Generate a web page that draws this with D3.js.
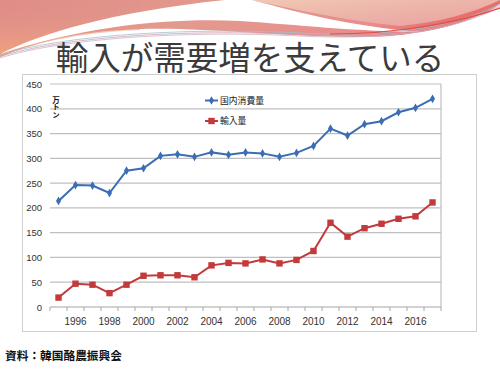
<!DOCTYPE html>
<html>
<head>
<meta charset="utf-8">
<script src="https://cdn.jsdelivr.net/npm/d3@7"></script>
<style>
  html, body { margin: 0; padding: 0; background: #fff; }
  svg { display: block; }
</style>
</head>
<body>
<script>
// data (万トン)
var years = d3.range(1995, 2018);
var consumption = [214, 246, 245, 230, 275, 280, 305, 308, 303, 312, 307, 312, 310,
                   303, 311, 325, 360, 346, 369, 375, 393, 402, 420];
var imports = [19, 47, 45, 28, 45, 63, 64, 64, 60, 84, 89, 88, 96,
               88, 95, 113, 170, 142, 159, 168, 178, 183, 211];
var yTicks = [0, 50, 100, 150, 200, 250, 300, 350, 400, 450];
var xLabels = [1996, 1998, 2000, 2002, 2004, 2006, 2008, 2010, 2012, 2014, 2016];

var width = 500, height = 375;
var svg = d3.select("body").append("svg")
    .attr("width", width)
    .attr("height", height);

var defs = svg.append("defs");

var g1 = defs.append("linearGradient").attr("id", "pinkBase")
    .attr("x1", 0).attr("y1", 0).attr("x2", 1).attr("y2", 0.3);
g1.append("stop").attr("offset", "0%").attr("stop-color", "#e08c86");
g1.append("stop").attr("offset", "45%").attr("stop-color", "#e39a8e");
g1.append("stop").attr("offset", "80%").attr("stop-color", "#e98d8c");
g1.append("stop").attr("offset", "100%").attr("stop-color", "#e5605a");

var g2 = defs.append("linearGradient").attr("id", "leftGlow")
    .attr("x1", 0).attr("y1", 0).attr("x2", 0).attr("y2", 1);
g2.append("stop").attr("offset", "0%").attr("stop-color", "#d98b8b").attr("stop-opacity", 0);
g2.append("stop").attr("offset", "100%").attr("stop-color", "#f5a57a").attr("stop-opacity", 0.9);

var g3 = defs.append("linearGradient").attr("id", "peach")
    .attr("x1", 0).attr("y1", 0).attr("x2", 1).attr("y2", 1);
g3.append("stop").attr("offset", "0%").attr("stop-color", "#f1c7b3");
g3.append("stop").attr("offset", "100%").attr("stop-color", "#e8a0a0");

// HEADER DECORATION
svg.append("path")
    .attr("fill", "url(#pinkBase)")
    .attr("d", "M0,0 H500 V4 C470,24 420,37 360,37 C300,37 240,31 180,29 C110,27 50,35 0,57 Z");
svg.append("path")
    .attr("fill", "url(#leftGlow)")
    .attr("d", "M0,0 H140 V30 C90,32 40,40 0,57 Z");
svg.append("path")
    .attr("fill", "url(#peach)")
    .attr("d", "M250,0 H500 V0 C470,14 440,22 400,26 C340,20 290,8 250,0 Z");
svg.append("path")
    .attr("fill", "#fff")
    .attr("d", "M0,54 C40,34 110,12 225,0 H252 C300,13 350,26 420,32 C350,31 300,25 240,21 C170,18 90,25 0,54 Z");
[["#9cc3d3", 0], ["#d9a0b0", 1.6], ["#c8b8c8", 3]].forEach(function(l) {
  svg.append("path")
      .attr("fill", "none")
      .attr("stroke", l[0])
      .attr("stroke-width", 0.8)
      .attr("d", "M0," + (55 + l[1]) + " C60," + (36 + l[1]) + " 180," + (27 + l[1]) + " 300," + (33 + l[1]) +
                 " C380," + (37 + l[1]) + " 450," + (30 + l[1]) + " 500," + (4 + l[1]));
});
svg.append("path")
    .attr("fill", "none")
    .attr("stroke", "#e24a44")
    .attr("stroke-width", 1.2)
    .attr("d", "M330,34 C400,34 460,22 500,8");

// TITLE
svg.append("text")
    .attr("x", 250)
    .attr("y", 70)
    .attr("text-anchor", "middle")
    .attr("font-family", "'Noto Sans CJK JP', sans-serif")
    .attr("font-size", 32.5)
    .attr("fill", "#3b3b3b")
    .text("輸入が需要増を支えている");

// CHART FRAME
svg.append("rect")
    .attr("x", 22.5).attr("y", 74.5)
    .attr("width", 454).attr("height", 257)
    .attr("fill", "#fff")
    .attr("stroke", "#cfcfcf");

var x = d3.scaleBand().domain(years).range([50, 441]);
var y = d3.scaleLinear().domain([0, 450]).range([307, 84]);

// gridlines
svg.append("g").selectAll("line")
    .data(yTicks.slice(1))
  .enter().append("line")
    .attr("x1", 50).attr("x2", 441)
    .attr("y1", function(d) { return y(d); })
    .attr("y2", function(d) { return y(d); })
    .attr("stroke", "#bfbfbf")
    .attr("stroke-width", 1.2);

svg.append("line")
    .attr("x1", 441).attr("x2", 441)
    .attr("y1", y(450)).attr("y2", y(0))
    .attr("stroke", "#bfbfbf")
    .attr("stroke-width", 1.2);

// y labels
svg.append("g").selectAll("text")
    .data(yTicks)
  .enter().append("text")
    .attr("x", 42)
    .attr("y", function(d) { return y(d) + 3.5; })
    .attr("text-anchor", "end")
    .attr("font-family", "'Liberation Sans', Arial, sans-serif")
    .attr("font-size", 9.5)
    .attr("fill", "#333")
    .text(function(d) { return d; });

// x axis
svg.append("line")
    .attr("x1", 50).attr("x2", 441)
    .attr("y1", y(0)).attr("y2", y(0))
    .attr("stroke", "#a6a6a6")
    .attr("stroke-width", 1.2);

var tickPos = years.map(function(d) { return x(d); }).concat([x.range()[1]]);
svg.append("g").selectAll("line")
    .data(tickPos)
  .enter().append("line")
    .attr("x1", function(d) { return d; })
    .attr("x2", function(d) { return d; })
    .attr("y1", y(0)).attr("y2", y(0) + 4)
    .attr("stroke", "#a6a6a6");

svg.append("g").selectAll("text")
    .data(xLabels)
  .enter().append("text")
    .attr("x", function(d) { return x(d) + x.bandwidth() / 2; })
    .attr("y", 325)
    .attr("text-anchor", "middle")
    .attr("font-family", "'Liberation Sans', Arial, sans-serif")
    .attr("font-size", 10)
    .attr("fill", "#333")
    .text(function(d) { return d; });

// unit label, written vertically
svg.append("text")
    .attr("x", 56)
    .attr("y", 96)
    .attr("writing-mode", "vertical-rl")
    .attr("font-family", "'Noto Sans CJK JP', sans-serif")
    .attr("font-weight", "bold")
    .attr("font-size", 7.5)
    .attr("fill", "#111")
    .text("万トン");

// SERIES
var cx = function(d, i) { return x(years[i]) + x.bandwidth() / 2; };
var line = d3.line().x(cx).y(function(d) { return y(d); });

var blue = "#3a6db3", red = "#c23a3b";

svg.append("path")
    .datum(consumption)
    .attr("fill", "none")
    .attr("stroke", blue)
    .attr("stroke-width", 2)
    .attr("d", line);

svg.append("path")
    .datum(imports)
    .attr("fill", "none")
    .attr("stroke", red)
    .attr("stroke-width", 2)
    .attr("d", line);

var diamond = d3.symbol().type(d3.symbolDiamond).size(22);
svg.append("g").selectAll("path")
    .data(consumption)
  .enter().append("path")
    .attr("transform", function(d, i) { return "translate(" + cx(d, i) + "," + y(d) + ")"; })
    .attr("d", diamond)
    .attr("fill", blue);

svg.append("g").selectAll("rect")
    .data(imports)
  .enter().append("rect")
    .attr("x", function(d, i) { return cx(d, i) - 3.2; })
    .attr("y", function(d) { return y(d) - 3.2; })
    .attr("width", 6.4).attr("height", 6.4)
    .attr("fill", red);

// LEGEND
var legend = [
  {name: "国内消費量", color: blue, shape: "diamond", y: 100.5},
  {name: "輸入量", color: red, shape: "square", y: 121}
];
legend.forEach(function(l) {
  svg.append("line")
      .attr("x1", 205).attr("x2", 218)
      .attr("y1", l.y).attr("y2", l.y)
      .attr("stroke", l.color)
      .attr("stroke-width", 2);
  if (l.shape == "diamond") {
    svg.append("path")
        .attr("transform", "translate(211.5," + l.y + ")")
        .attr("d", diamond)
        .attr("fill", l.color);
  } else {
    svg.append("rect")
        .attr("x", 208.3).attr("y", l.y - 3.2)
        .attr("width", 6.4).attr("height", 6.4)
        .attr("fill", l.color);
  }
  svg.append("text")
      .attr("x", 220)
      .attr("y", l.y + 3.2)
      .attr("font-family", "'Noto Sans CJK JP', sans-serif")
      .attr("font-size", 8.8)
      .attr("fill", "#222")
      .text(l.name);
});

// SOURCE
svg.append("text")
    .attr("x", 5)
    .attr("y", 360)
    .attr("font-family", "'Noto Sans CJK JP', sans-serif")
    .attr("font-weight", "bold")
    .attr("font-size", 11.7)
    .attr("fill", "#111")
    .text("資料：韓国酪農振興会");
</script>
</body>
</html>
